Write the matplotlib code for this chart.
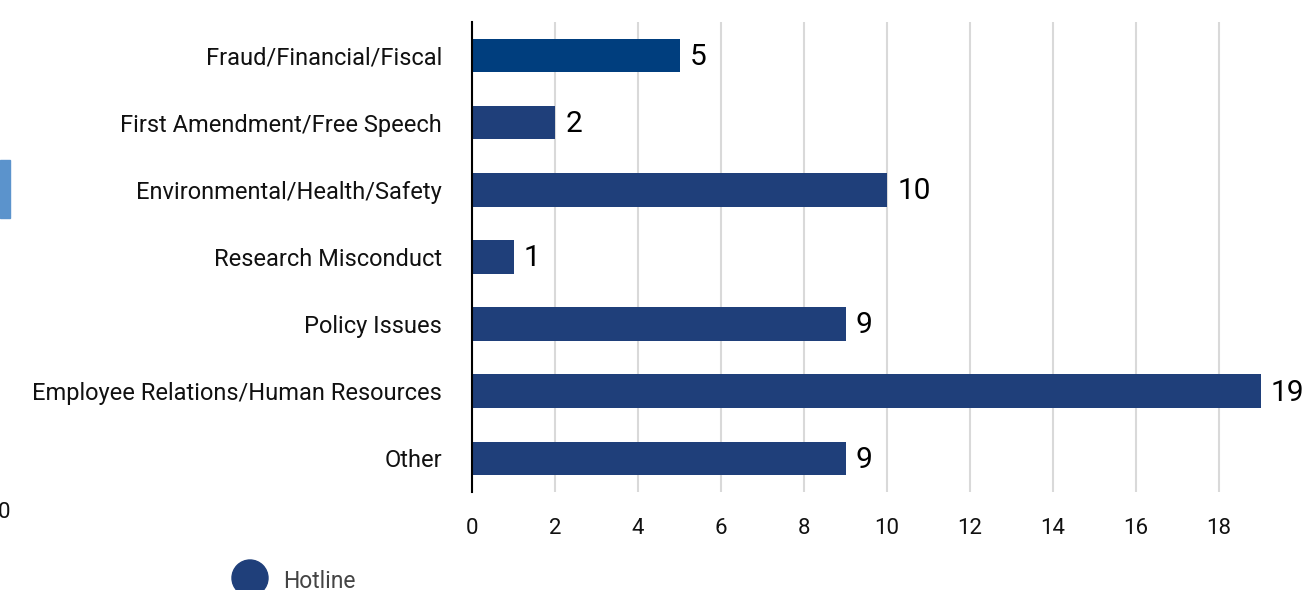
import matplotlib
matplotlib.use('Agg')
import matplotlib.pyplot as plt
from matplotlib.patches import Rectangle, Ellipse

plt.rcParams['font.family'] = ['Roboto', 'DejaVu Sans']

categories = ['Fraud/Financial/Fiscal', 'First Amendment/Free Speech',
              'Environmental/Health/Safety', 'Research Misconduct',
              'Policy Issues', 'Employee Relations/Human Resources', 'Other']
values = [5, 2, 10, 1, 9, 19, 9]
bar_colors = ['#003e7e', '#1f3f7a', '#1f3f7a', '#1f3f7a', '#1f3f7a', '#1f3f7a', '#1f3f7a']
xticks = [0, 2, 4, 6, 8, 10, 12, 14, 16, 18]
series_name = 'Hotline'

fig = plt.figure(figsize=(13.14, 5.90), dpi=100)
ax = fig.add_axes([472/1314, 1 - 492/590, (1302 - 472)/1314, 470/590])

ypos = list(range(len(categories)))
ax.barh(ypos, values, height=0.5, color=bar_colors, zorder=3)
for y, v in zip(ypos, values):
    ax.text(v + 0.25, y + 0.02, str(v), va='center', ha='left', fontsize=21.5, color='black')

ax.set_ylim(len(categories) - 0.5, -0.5)
ax.set_xlim(0, 20)
ax.set_yticks(ypos)
ax.set_yticklabels(categories, fontsize=17, color='#111111')
ax.set_xticks(xticks)
ax.set_xticklabels([str(t) for t in xticks], fontsize=16, color='#111111')
ax.tick_params(axis='both', length=0)
ax.tick_params(axis='y', pad=21.5)
ax.tick_params(axis='x', pad=19)
ax.grid(axis='x', color='#d9d9d9', linewidth=1.5, zorder=0)
for s in ['top', 'right', 'bottom']:
    ax.spines[s].set_visible(False)
ax.spines['left'].set_color('black')
ax.spines['left'].set_linewidth(1.5)
ax.spines['left'].set_zorder(4)

# fragments of neighbouring chart at left edge
fig.patches.append(Rectangle((0, 1 - 218/590), 10/1314, 58/590,
                             transform=fig.transFigure, color='#5b93cc'))
fig.text(-2/1314, 1 - 513/590, '0', fontsize=16, va='center', ha='left', color='#111111')

# legend
fig.patches.append(Ellipse((250/1314, 1 - 578/590), 36/1314, 36/590,
                           transform=fig.transFigure, color='#1f3f7a'))
fig.text(283/1314, 1 - 581/590, series_name, fontsize=16.5, va='center', ha='left', color='#444444')

fig.savefig('out.png', dpi=100)
